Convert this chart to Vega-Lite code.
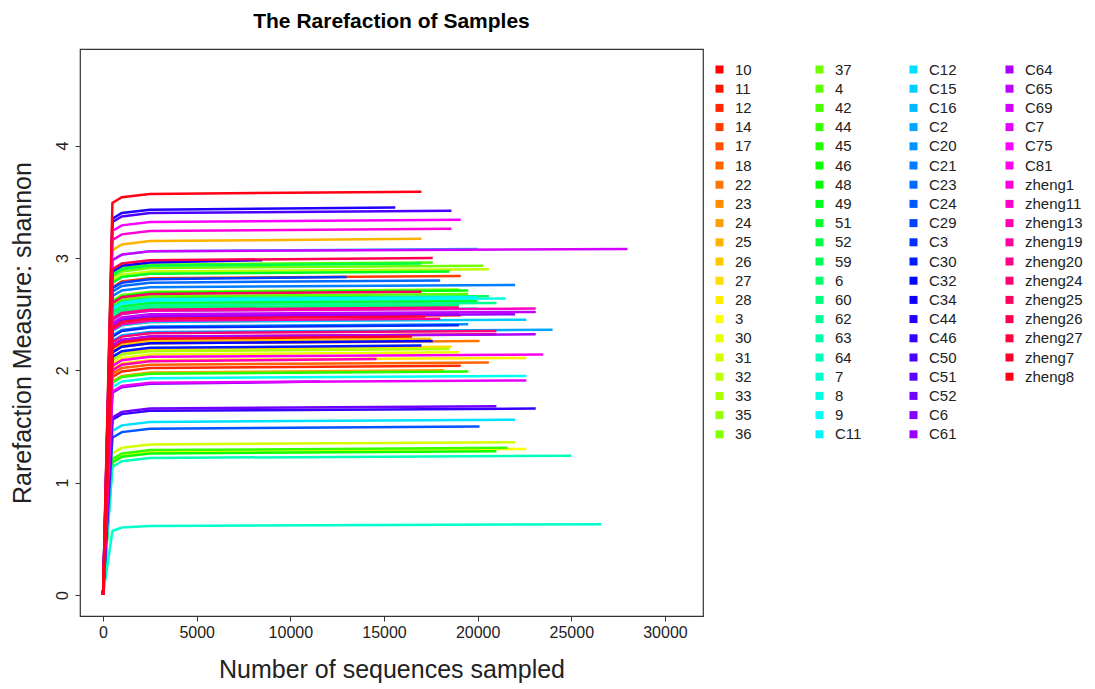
{
"$schema": "https://vega.github.io/schema/vega-lite/v6.json",
"width": 623, "height": 567,
"autosize": {"type": "none"},
"padding": {"left": 80, "top": 49, "right": 392, "bottom": 73},
"background": "white",
"config": {"view": {"stroke": "#333333", "strokeWidth": 1.2}, "font": "Liberation Sans",
  "legend": {"title": null, "orient": "none", "legendY": 13, "direction": "vertical", "padding": 0,
    "symbolType": "square", "symbolSize": 16, "symbolStrokeWidth": 4, "symbolOpacity": 1, "symbolLimit": 100,
    "labelFont": "Liberation Sans", "labelFontSize": 15, "labelColor": "#222222", "labelOffset": 8, "labelLimit": 200,
    "rowPadding": -1.8}},
"title": {"text": "The Rarefaction of Samples", "anchor": "middle", "font": "Liberation Sans", "fontSize": 21, "fontWeight": "bold", "color": "#000000", "baseline": "alphabetic", "offset": 0},
"data": {"values": [
{"s":"10","x":0,"y":0},{"s":"10","x":500,"y":2.22},{"s":"10","x":1000,"y":2.27},{"s":"10","x":2500,"y":2.30},{"s":"10","x":21000,"y":2.32},
{"s":"11","x":0,"y":0},{"s":"11","x":500,"y":2.39},{"s":"11","x":1000,"y":2.44},{"s":"11","x":2500,"y":2.47},{"s":"11","x":19100,"y":2.49},
{"s":"12","x":0,"y":0},{"s":"12","x":500,"y":1.94},{"s":"12","x":1000,"y":1.99},{"s":"12","x":2500,"y":2.02},{"s":"12","x":19100,"y":2.04},
{"s":"14","x":0,"y":0},{"s":"14","x":500,"y":2.74},{"s":"14","x":1000,"y":2.79},{"s":"14","x":2500,"y":2.82},{"s":"14","x":19100,"y":2.84},
{"s":"17","x":0,"y":0},{"s":"17","x":500,"y":2.50},{"s":"17","x":1000,"y":2.55},{"s":"17","x":2500,"y":2.58},{"s":"17","x":17600,"y":2.60},
{"s":"18","x":0,"y":0},{"s":"18","x":500,"y":1.97},{"s":"18","x":1000,"y":2.02},{"s":"18","x":2500,"y":2.05},{"s":"18","x":20600,"y":2.07},
{"s":"22","x":0,"y":0},{"s":"22","x":500,"y":2.16},{"s":"22","x":1000,"y":2.21},{"s":"22","x":2500,"y":2.24},{"s":"22","x":20100,"y":2.26},
{"s":"23","x":0,"y":0},{"s":"23","x":500,"y":2.35},{"s":"23","x":1000,"y":2.40},{"s":"23","x":2500,"y":2.43},{"s":"23","x":16500,"y":2.45},
{"s":"24","x":0,"y":0},{"s":"24","x":500,"y":1.90},{"s":"24","x":1000,"y":1.95},{"s":"24","x":2500,"y":1.98},{"s":"24","x":18200,"y":2.00},
{"s":"25","x":0,"y":0},{"s":"25","x":500,"y":3.07},{"s":"25","x":1000,"y":3.12},{"s":"25","x":2500,"y":3.15},{"s":"25","x":17000,"y":3.17},
{"s":"26","x":0,"y":0},{"s":"26","x":500,"y":2.18},{"s":"26","x":1000,"y":2.23},{"s":"26","x":2500,"y":2.26},{"s":"26","x":17500,"y":2.28},
{"s":"27","x":0,"y":0},{"s":"27","x":500,"y":2.11},{"s":"27","x":1000,"y":2.16},{"s":"27","x":2500,"y":2.19},{"s":"27","x":18600,"y":2.21},
{"s":"28","x":0,"y":0},{"s":"28","x":500,"y":2.01},{"s":"28","x":1000,"y":2.06},{"s":"28","x":2500,"y":2.09},{"s":"28","x":22600,"y":2.11},
{"s":"3","x":0,"y":0},{"s":"3","x":500,"y":1.20},{"s":"3","x":1000,"y":1.25},{"s":"3","x":2500,"y":1.28},{"s":"3","x":22600,"y":1.30},
{"s":"30","x":0,"y":0},{"s":"30","x":500,"y":2.06},{"s":"30","x":1000,"y":2.11},{"s":"30","x":2500,"y":2.14},{"s":"30","x":19000,"y":2.16},
{"s":"31","x":0,"y":0},{"s":"31","x":500,"y":1.26},{"s":"31","x":1000,"y":1.31},{"s":"31","x":2500,"y":1.34},{"s":"31","x":22000,"y":1.36},
{"s":"32","x":0,"y":0},{"s":"32","x":500,"y":2.80},{"s":"32","x":1000,"y":2.85},{"s":"32","x":2500,"y":2.88},{"s":"32","x":20600,"y":2.90},
{"s":"33","x":0,"y":0},{"s":"33","x":500,"y":2.09},{"s":"33","x":1000,"y":2.14},{"s":"33","x":2500,"y":2.17},{"s":"33","x":18500,"y":2.19},
{"s":"35","x":0,"y":0},{"s":"35","x":500,"y":2.53},{"s":"35","x":1000,"y":2.58},{"s":"35","x":2500,"y":2.61},{"s":"35","x":18000,"y":2.63},
{"s":"36","x":0,"y":0},{"s":"36","x":500,"y":2.62},{"s":"36","x":1000,"y":2.67},{"s":"36","x":2500,"y":2.70},{"s":"36","x":19000,"y":2.72},
{"s":"37","x":0,"y":0},{"s":"37","x":500,"y":2.83},{"s":"37","x":1000,"y":2.88},{"s":"37","x":2500,"y":2.91},{"s":"37","x":20300,"y":2.93},
{"s":"4","x":0,"y":0},{"s":"4","x":500,"y":2.58},{"s":"4","x":1000,"y":2.63},{"s":"4","x":2500,"y":2.66},{"s":"4","x":19500,"y":2.68},
{"s":"42","x":0,"y":0},{"s":"42","x":500,"y":2.86},{"s":"42","x":1000,"y":2.91},{"s":"42","x":2500,"y":2.94},{"s":"42","x":17600,"y":2.96},
{"s":"44","x":0,"y":0},{"s":"44","x":500,"y":1.21},{"s":"44","x":1000,"y":1.26},{"s":"44","x":2500,"y":1.29},{"s":"44","x":21600,"y":1.31},
{"s":"45","x":0,"y":0},{"s":"45","x":500,"y":1.89},{"s":"45","x":1000,"y":1.94},{"s":"45","x":2500,"y":1.97},{"s":"45","x":19500,"y":1.99},
{"s":"46","x":0,"y":0},{"s":"46","x":500,"y":1.18},{"s":"46","x":1000,"y":1.23},{"s":"46","x":2500,"y":1.26},{"s":"46","x":21000,"y":1.28},
{"s":"48","x":0,"y":0},{"s":"48","x":500,"y":2.61},{"s":"48","x":1000,"y":2.66},{"s":"48","x":2500,"y":2.69},{"s":"48","x":19500,"y":2.71},
{"s":"49","x":0,"y":0},{"s":"49","x":500,"y":2.78},{"s":"49","x":1000,"y":2.83},{"s":"49","x":2500,"y":2.86},{"s":"49","x":18500,"y":2.88},
{"s":"51","x":0,"y":0},{"s":"51","x":500,"y":2.52},{"s":"51","x":1000,"y":2.57},{"s":"51","x":2500,"y":2.60},{"s":"51","x":20000,"y":2.62},
{"s":"52","x":0,"y":0},{"s":"52","x":500,"y":2.85},{"s":"52","x":1000,"y":2.90},{"s":"52","x":2500,"y":2.93},{"s":"52","x":17000,"y":2.95},
{"s":"59","x":0,"y":0},{"s":"59","x":500,"y":2.56},{"s":"59","x":1000,"y":2.61},{"s":"59","x":2500,"y":2.64},{"s":"59","x":20600,"y":2.66},
{"s":"6","x":0,"y":0},{"s":"6","x":500,"y":2.48},{"s":"6","x":1000,"y":2.53},{"s":"6","x":2500,"y":2.56},{"s":"6","x":19000,"y":2.58},
{"s":"60","x":0,"y":0},{"s":"60","x":500,"y":2.47},{"s":"60","x":1000,"y":2.52},{"s":"60","x":2500,"y":2.55},{"s":"60","x":18000,"y":2.57},
{"s":"62","x":0,"y":0},{"s":"62","x":500,"y":2.50},{"s":"62","x":1000,"y":2.55},{"s":"62","x":2500,"y":2.58},{"s":"62","x":21000,"y":2.60},
{"s":"63","x":0,"y":0},{"s":"63","x":500,"y":2.45},{"s":"63","x":1000,"y":2.50},{"s":"63","x":2500,"y":2.53},{"s":"63","x":20000,"y":2.55},
{"s":"64","x":0,"y":0},{"s":"64","x":500,"y":1.14},{"s":"64","x":1000,"y":1.19},{"s":"64","x":2500,"y":1.22},{"s":"64","x":25000,"y":1.24},
{"s":"7","x":0,"y":0},{"s":"7","x":500,"y":0.57},{"s":"7","x":1000,"y":0.60},{"s":"7","x":2500,"y":0.615},{"s":"7","x":26600,"y":0.63},
{"s":"8","x":0,"y":0},{"s":"8","x":500,"y":2.54},{"s":"8","x":1000,"y":2.59},{"s":"8","x":2500,"y":2.62},{"s":"8","x":21500,"y":2.64},
{"s":"9","x":0,"y":0},{"s":"9","x":500,"y":1.85},{"s":"9","x":1000,"y":1.90},{"s":"9","x":2500,"y":1.93},{"s":"9","x":22600,"y":1.95},
{"s":"C11","x":0,"y":0},{"s":"C11","x":500,"y":2.55},{"s":"C11","x":1000,"y":2.60},{"s":"C11","x":2500,"y":2.63},{"s":"C11","x":20000,"y":2.65},
{"s":"C12","x":0,"y":0},{"s":"C12","x":500,"y":1.46},{"s":"C12","x":1000,"y":1.51},{"s":"C12","x":2500,"y":1.54},{"s":"C12","x":22000,"y":1.56},
{"s":"C15","x":0,"y":0},{"s":"C15","x":500,"y":2.35},{"s":"C15","x":1000,"y":2.40},{"s":"C15","x":2500,"y":2.43},{"s":"C15","x":22600,"y":2.45},
{"s":"C16","x":0,"y":0},{"s":"C16","x":500,"y":2.98},{"s":"C16","x":1000,"y":3.03},{"s":"C16","x":2500,"y":3.06},{"s":"C16","x":20000,"y":3.08},
{"s":"C2","x":0,"y":0},{"s":"C2","x":500,"y":2.26},{"s":"C2","x":1000,"y":2.31},{"s":"C2","x":2500,"y":2.34},{"s":"C2","x":24000,"y":2.36},
{"s":"C20","x":0,"y":0},{"s":"C20","x":500,"y":2.31},{"s":"C20","x":1000,"y":2.36},{"s":"C20","x":2500,"y":2.39},{"s":"C20","x":19500,"y":2.41},
{"s":"C21","x":0,"y":0},{"s":"C21","x":500,"y":2.66},{"s":"C21","x":1000,"y":2.71},{"s":"C21","x":2500,"y":2.74},{"s":"C21","x":22000,"y":2.76},
{"s":"C23","x":0,"y":0},{"s":"C23","x":500,"y":2.70},{"s":"C23","x":1000,"y":2.75},{"s":"C23","x":2500,"y":2.78},{"s":"C23","x":18000,"y":2.80},
{"s":"C24","x":0,"y":0},{"s":"C24","x":500,"y":1.40},{"s":"C24","x":1000,"y":1.45},{"s":"C24","x":2500,"y":1.48},{"s":"C24","x":20100,"y":1.50},
{"s":"C29","x":0,"y":0},{"s":"C29","x":500,"y":2.73},{"s":"C29","x":1000,"y":2.78},{"s":"C29","x":2500,"y":2.81},{"s":"C29","x":13000,"y":2.83},
{"s":"C3","x":0,"y":0},{"s":"C3","x":500,"y":2.30},{"s":"C3","x":1000,"y":2.35},{"s":"C3","x":2500,"y":2.38},{"s":"C3","x":19000,"y":2.40},
{"s":"C30","x":0,"y":0},{"s":"C30","x":500,"y":2.12},{"s":"C30","x":1000,"y":2.17},{"s":"C30","x":2500,"y":2.20},{"s":"C30","x":17000,"y":2.22},
{"s":"C32","x":0,"y":0},{"s":"C32","x":500,"y":2.16},{"s":"C32","x":1000,"y":2.21},{"s":"C32","x":2500,"y":2.24},{"s":"C32","x":17600,"y":2.26},
{"s":"C34","x":0,"y":0},{"s":"C34","x":500,"y":2.88},{"s":"C34","x":1000,"y":2.93},{"s":"C34","x":2500,"y":2.96},{"s":"C34","x":8500,"y":2.98},
{"s":"C44","x":0,"y":0},{"s":"C44","x":500,"y":3.35},{"s":"C44","x":1000,"y":3.40},{"s":"C44","x":2500,"y":3.43},{"s":"C44","x":15600,"y":3.45},
{"s":"C46","x":0,"y":0},{"s":"C46","x":500,"y":1.56},{"s":"C46","x":1000,"y":1.61},{"s":"C46","x":2500,"y":1.64},{"s":"C46","x":23100,"y":1.66},
{"s":"C50","x":0,"y":0},{"s":"C50","x":500,"y":3.32},{"s":"C50","x":1000,"y":3.37},{"s":"C50","x":2500,"y":3.40},{"s":"C50","x":18600,"y":3.42},
{"s":"C51","x":0,"y":0},{"s":"C51","x":500,"y":2.40},{"s":"C51","x":1000,"y":2.45},{"s":"C51","x":2500,"y":2.48},{"s":"C51","x":19000,"y":2.50},
{"s":"C52","x":0,"y":0},{"s":"C52","x":500,"y":1.58},{"s":"C52","x":1000,"y":1.63},{"s":"C52","x":2500,"y":1.66},{"s":"C52","x":21000,"y":1.68},
{"s":"C6","x":0,"y":0},{"s":"C6","x":500,"y":1.80},{"s":"C6","x":1000,"y":1.85},{"s":"C6","x":2500,"y":1.88},{"s":"C6","x":11600,"y":1.90},
{"s":"C61","x":0,"y":0},{"s":"C61","x":500,"y":2.40},{"s":"C61","x":1000,"y":2.45},{"s":"C61","x":2500,"y":2.48},{"s":"C61","x":22000,"y":2.50},
{"s":"C64","x":0,"y":0},{"s":"C64","x":500,"y":2.22},{"s":"C64","x":1000,"y":2.27},{"s":"C64","x":2500,"y":2.30},{"s":"C64","x":23100,"y":2.32},
{"s":"C65","x":0,"y":0},{"s":"C65","x":500,"y":2.42},{"s":"C65","x":1000,"y":2.47},{"s":"C65","x":2500,"y":2.50},{"s":"C65","x":23100,"y":2.52},
{"s":"C69","x":0,"y":0},{"s":"C69","x":500,"y":2.98},{"s":"C69","x":1000,"y":3.03},{"s":"C69","x":2500,"y":3.06},{"s":"C69","x":28000,"y":3.08},
{"s":"C7","x":0,"y":0},{"s":"C7","x":500,"y":1.81},{"s":"C7","x":1000,"y":1.86},{"s":"C7","x":2500,"y":1.89},{"s":"C7","x":22600,"y":1.91},
{"s":"C75","x":0,"y":0},{"s":"C75","x":500,"y":3.24},{"s":"C75","x":1000,"y":3.29},{"s":"C75","x":2500,"y":3.32},{"s":"C75","x":19100,"y":3.34},
{"s":"C81","x":0,"y":0},{"s":"C81","x":500,"y":2.04},{"s":"C81","x":1000,"y":2.09},{"s":"C81","x":2500,"y":2.12},{"s":"C81","x":23500,"y":2.14},
{"s":"zheng1","x":0,"y":0},{"s":"zheng1","x":500,"y":3.16},{"s":"zheng1","x":1000,"y":3.21},{"s":"zheng1","x":2500,"y":3.24},{"s":"zheng1","x":18600,"y":3.26},
{"s":"zheng11","x":0,"y":0},{"s":"zheng11","x":500,"y":2.45},{"s":"zheng11","x":1000,"y":2.50},{"s":"zheng11","x":2500,"y":2.53},{"s":"zheng11","x":23100,"y":2.55},
{"s":"zheng13","x":0,"y":0},{"s":"zheng13","x":500,"y":2.00},{"s":"zheng13","x":1000,"y":2.05},{"s":"zheng13","x":2500,"y":2.08},{"s":"zheng13","x":14600,"y":2.10},
{"s":"zheng19","x":0,"y":0},{"s":"zheng19","x":500,"y":2.36},{"s":"zheng19","x":1000,"y":2.41},{"s":"zheng19","x":2500,"y":2.44},{"s":"zheng19","x":18000,"y":2.46},
{"s":"zheng20","x":0,"y":0},{"s":"zheng20","x":500,"y":2.46},{"s":"zheng20","x":1000,"y":2.51},{"s":"zheng20","x":2500,"y":2.54},{"s":"zheng20","x":19000,"y":2.56},
{"s":"zheng24","x":0,"y":0},{"s":"zheng24","x":500,"y":2.25},{"s":"zheng24","x":1000,"y":2.30},{"s":"zheng24","x":2500,"y":2.33},{"s":"zheng24","x":21000,"y":2.35},
{"s":"zheng25","x":0,"y":0},{"s":"zheng25","x":500,"y":2.60},{"s":"zheng25","x":1000,"y":2.65},{"s":"zheng25","x":2500,"y":2.68},{"s":"zheng25","x":17000,"y":2.70},
{"s":"zheng26","x":0,"y":0},{"s":"zheng26","x":500,"y":2.90},{"s":"zheng26","x":1000,"y":2.95},{"s":"zheng26","x":2500,"y":2.98},{"s":"zheng26","x":17600,"y":3.00},
{"s":"zheng27","x":0,"y":0},{"s":"zheng27","x":500,"y":2.38},{"s":"zheng27","x":1000,"y":2.43},{"s":"zheng27","x":2500,"y":2.46},{"s":"zheng27","x":17200,"y":2.48},
{"s":"zheng7","x":0,"y":0},{"s":"zheng7","x":500,"y":2.20},{"s":"zheng7","x":1000,"y":2.25},{"s":"zheng7","x":2500,"y":2.28},{"s":"zheng7","x":16500,"y":2.30},
{"s":"zheng8","x":0,"y":0},{"s":"zheng8","x":500,"y":3.49},{"s":"zheng8","x":1000,"y":3.54},{"s":"zheng8","x":2500,"y":3.57},{"s":"zheng8","x":17000,"y":3.59}
]},
"encoding": {
"x": {"field": "x", "type": "quantitative",
  "scale": {"domain": [-1232, 32032], "nice": false, "zero": false},
  "axis": {"title": "Number of sequences sampled", "values": [0,5000,10000,15000,20000,25000,30000], "format": "d", "grid": false, "domain": false,
    "tickSize": 5, "tickColor": "#333333", "tickWidth": 1, "labelFont": "Liberation Sans", "labelFontSize": 16, "labelColor": "#222222", "labelPadding": 3, "labelFlush": false, "labelOverlap": false,
    "titleFont": "Liberation Sans", "titleFontSize": 25, "titleFontWeight": "normal", "titleColor": "#222222", "titlePadding": 17}},
"y": {"field": "y", "type": "quantitative",
  "scale": {"domain": [-0.187, 4.86], "nice": false, "zero": false},
  "axis": {"title": "Rarefaction Measure: shannon", "values": [0,1,2,3,4], "grid": false, "domain": false,
    "tickSize": 5, "tickColor": "#333333", "tickWidth": 1, "labelAngle": -90, "labelAlign": "center", "labelBaseline": "bottom", "labelFont": "Liberation Sans", "labelFontSize": 16, "labelColor": "#222222", "labelPadding": 5, "labelFlush": false, "labelOverlap": false,
    "titleFont": "Liberation Sans", "titleFontSize": 25, "titleFontWeight": "normal", "titleColor": "#222222", "titlePadding": 19}}
},
"layer": [
{"transform": [{"filter": {"field": "s", "oneOf": ["10","11","12","14","17","18","22","23","24","25","26","27","28","3","30","31","32","33","35","36"]}}],
 "mark": {"type": "line", "strokeWidth": 2.5},
 "encoding": {"color": {"field": "s", "type": "nominal",
   "scale": {"domain": ["10","11","12","14","17","18","22","23","24","25","26","27","28","3","30","31","32","33","35","36"],
     "range": ["#FF0000","#FF1400","#FF2800","#FF3C00","#FF4F00","#FF6300","#FF7700","#FF8B00","#FF9F00","#FFB300","#FFC700","#FFDB00","#FFEE00","#FCFF00","#E8FF00","#D4FF00","#C0FF00","#ACFF00","#98FF00","#84FF00"]},
   "legend": {"legendX": 632}}}},
{"transform": [{"filter": {"field": "s", "oneOf": ["37","4","42","44","45","46","48","49","51","52","59","6","60","62","63","64","7","8","9","C11"]}}],
 "mark": {"type": "line", "strokeWidth": 2.5},
 "encoding": {"color": {"field": "s", "type": "nominal",
   "scale": {"domain": ["37","4","42","44","45","46","48","49","51","52","59","6","60","62","63","64","7","8","9","C11"],
     "range": ["#71FF00","#5DFF00","#49FF00","#35FF00","#21FF00","#0DFF00","#00FF07","#00FF1A","#00FF2E","#00FF42","#00FF56","#00FF6A","#00FF7E","#00FF92","#00FFA6","#00FFB9","#00FFCD","#00FFE1","#00FFF5","#00F5FF"]},
   "legend": {"legendX": 732}}}},
{"transform": [{"filter": {"field": "s", "oneOf": ["C12","C15","C16","C2","C20","C21","C23","C24","C29","C3","C30","C32","C34","C44","C46","C50","C51","C52","C6","C61"]}}],
 "mark": {"type": "line", "strokeWidth": 2.5},
 "encoding": {"color": {"field": "s", "type": "nominal",
   "scale": {"domain": ["C12","C15","C16","C2","C20","C21","C23","C24","C29","C3","C30","C32","C34","C44","C46","C50","C51","C52","C6","C61"],
     "range": ["#00E1FF","#00CDFF","#00B9FF","#00A6FF","#0092FF","#007EFF","#006AFF","#0056FF","#0042FF","#002EFF","#001AFF","#0007FF","#0D00FF","#2100FF","#3500FF","#4900FF","#5D00FF","#7100FF","#8400FF","#9800FF"]},
   "legend": {"legendX": 826}}}},
{"transform": [{"filter": {"field": "s", "oneOf": ["C64","C65","C69","C7","C75","C81","zheng1","zheng11","zheng13","zheng19","zheng20","zheng24","zheng25","zheng26","zheng27","zheng7","zheng8"]}}],
 "mark": {"type": "line", "strokeWidth": 2.5},
 "encoding": {"color": {"field": "s", "type": "nominal",
   "scale": {"domain": ["C64","C65","C69","C7","C75","C81","zheng1","zheng11","zheng13","zheng19","zheng20","zheng24","zheng25","zheng26","zheng27","zheng7","zheng8"],
     "range": ["#AC00FF","#C000FF","#D400FF","#E800FF","#FC00FF","#FF00EE","#FF00DB","#FF00C7","#FF00B3","#FF009F","#FF008B","#FF0077","#FF0063","#FF004F","#FF003C","#FF0028","#FF0014"]},
   "legend": {"legendX": 922}}}}
],
"resolve": {"scale": {"color": "independent"}, "legend": {"color": "independent"}}
}
